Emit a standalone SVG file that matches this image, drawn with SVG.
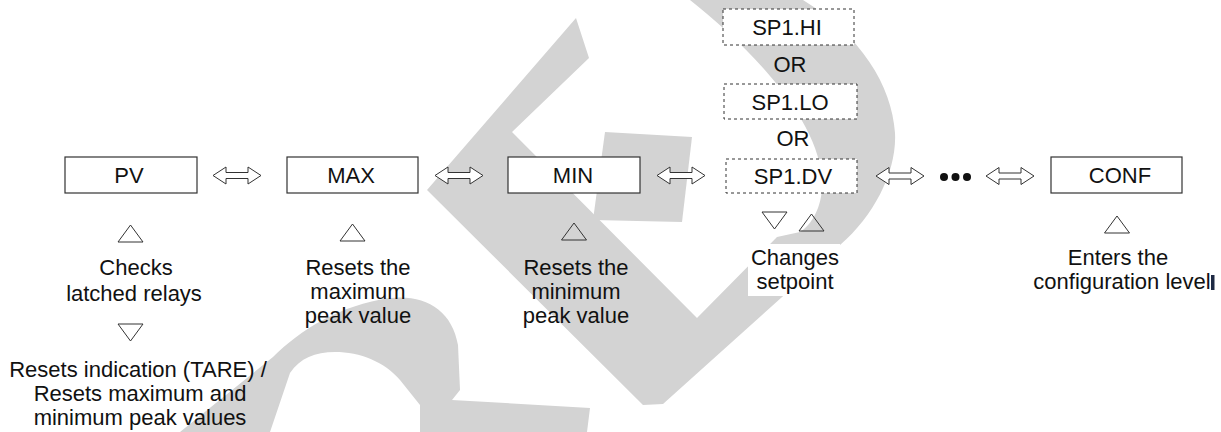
<svg xmlns="http://www.w3.org/2000/svg" width="1221" height="432" viewBox="0 0 1221 432">
  <style>
    .wm { fill: #d3d3d3; stroke: none; }
    .box { fill: #ffffff; stroke: #333333; stroke-width: 1.2; }
    .dbox { fill: #ffffff; stroke: #333333; stroke-width: 1; stroke-dasharray: 3 3; }
    .t { font-family: "Liberation Sans", Arial, Helvetica, sans-serif; font-size: 22px; fill: #111111; text-anchor: middle; }
    .tri { fill: none; stroke: #333333; stroke-width: 1; stroke-linejoin: miter; }
    .darrow { fill: #ffffff; stroke: #333333; stroke-width: 1; stroke-linejoin: miter; }
  </style>
  <defs>
    <!-- hollow double-headed arrow, 48 px long, centred on y = 0 -->
    <path id="dbl" class="darrow" d="M0,0 L13,-8.5 L13,-3 L35,-3 L35,-8.5 L48,0 L35,8.5 L35,3 L13,3 L13,8.5 Z"/>
    <path id="triUp" class="tri" d="M0,17 L12.5,0 L25,17 Z"/>
    <path id="triDown" class="tri" d="M0,0 L25,0 L12.5,17 Z"/>
  </defs>

  <rect width="1221" height="432" fill="#ffffff"/>

  <!-- background letter strokes -->
  <g id="backdrop">
    <path class="wm" fill-rule="evenodd" d="M180,432 L273,357 C300,330 340,305 390,298 C425,294 452,310 458,345 L460,390 L452,400 L590,408 L587,432 Z M270,432 L290,373 C300,358 315,352 335,352 C360,352 385,362 400,380 L420,405 L420,432 Z"/>
    <path class="wm" d="M576,18 L427,190 L643,405 L663,404 L840,245 C875,215 897,170 895,133 C892,85 860,35 803,0 L690,0 C740,40 815,110 822,177 C824,205 812,225 800,232 L777,237 L697,318 L512,132 L589,58 Z"/>
    <path class="wm" d="M605,132 L692,137 L682,222 L593,220 Z"/>
  </g>

  <!-- connectors between the display screens -->
  <g id="connectors">
    <use href="#dbl" x="213" y="175.5"/>
    <use href="#dbl" x="435" y="175.5"/>
    <use href="#dbl" x="657" y="175.5"/>
    <use href="#dbl" x="876" y="176"/>
    <g id="ellipsis" fill="#111111">
      <circle cx="944" cy="177" r="4"/>
      <circle cx="955.5" cy="177" r="4"/>
      <circle cx="967" cy="177" r="4"/>
    </g>
    <use href="#dbl" x="986" y="176"/>
  </g>

  <g id="node-pv">
    <rect class="box" x="65" y="157" width="132" height="36"/>
    <text class="t" x="129" y="183">PV</text>
    <use href="#triUp" x="118" y="225"/>
    <text class="t" x="136" y="275">Checks</text>
    <text class="t" x="134" y="301">latched relays</text>
    <use href="#triDown" x="118" y="324"/>
    <text class="t" x="138" y="377">Resets indication (TARE) /</text>
    <text class="t" x="140" y="401">Resets maximum and</text>
    <text class="t" x="140" y="425">minimum peak values</text>
  </g>

  <g id="node-max">
    <rect class="box" x="287" y="157" width="131" height="36"/>
    <text class="t" x="351" y="183">MAX</text>
    <use href="#triUp" x="340" y="224"/>
    <text class="t" x="358" y="275">Resets the</text>
    <text class="t" x="358" y="299">maximum</text>
    <text class="t" x="358" y="323">peak value</text>
  </g>

  <g id="node-min">
    <rect class="box" x="508" y="157" width="132" height="36"/>
    <text class="t" x="573" y="183">MIN</text>
    <use href="#triUp" x="561.5" y="223"/>
    <text class="t" x="576" y="275">Resets the</text>
    <text class="t" x="576" y="299">minimum</text>
    <text class="t" x="576" y="323">peak value</text>
  </g>

  <g id="node-setpoint">
    <rect class="dbox" x="723" y="9" width="131" height="36"/>
    <text class="t" x="787" y="35">SP1.HI</text>
    <text class="t" x="790" y="72">OR</text>
    <rect class="dbox" x="724" y="84" width="133" height="35"/>
    <text class="t" x="790" y="110">SP1.LO</text>
    <text class="t" x="793" y="146">OR</text>
    <rect class="dbox" x="726" y="159" width="131" height="34"/>
    <text class="t" x="793" y="184">SP1.DV</text>
    <use href="#triDown" x="762" y="212"/>
    <use href="#triUp" x="799" y="214"/>
    <rect x="748" y="244" width="92" height="52" fill="#ffffff"/>
    <text class="t" x="795" y="265">Changes</text>
    <text class="t" x="795" y="289">setpoint</text>
  </g>

  <g id="node-conf">
    <rect class="box" x="1051" y="157" width="131" height="36"/>
    <text class="t" x="1120" y="183">CONF</text>
    <use href="#triUp" x="1104.5" y="216"/>
    <text class="t" x="1118" y="265">Enters the</text>
    <text class="t" x="1122" y="289">configuration level</text>
    <rect x="1211" y="275" width="3.5" height="15" fill="#1f2a44"/>
  </g>
</svg>
